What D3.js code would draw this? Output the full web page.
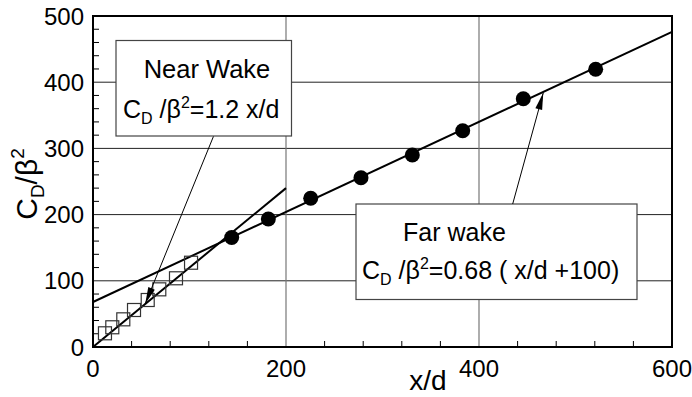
<!DOCTYPE html>
<html><head><meta charset="utf-8">
<script src="https://cdn.jsdelivr.net/npm/d3@7"></script>
<style>body{margin:0;background:#fff}svg{display:block}text{font-family:"Liberation Sans",Arial,sans-serif;fill:#000}</style>
</head><body><svg id="c" width="692" height="397"></svg>
<script>
// Data
const nearX = [12.4, 20, 31.4, 42.5, 56.7, 68.7, 86, 101.6];
const nearY = [20.7, 29.8, 41.8, 55.9, 71, 87.1, 103.8, 127.3];
const farX = [143.7, 181.7, 225.6, 277.7, 330.9, 383.1, 445.9, 520.9];
const farY = [165.4, 193.4, 224.6, 255.7, 290, 326.7, 375, 419.5];
const nearFitX = [0, 200];         // C_D/β² = 1.2 x/d
const farFitX = [0, 600];          // C_D/β² = 0.68 (x/d + 100)
const xTicks = [0, 200, 400, 600];
const yTicks = [0, 100, 200, 300, 400, 500];
const xMinor = d3.range(0, 601, 40).filter(v => v % 200 !== 0);
const yMinor = d3.range(0, 501, 20).filter(v => v % 100 !== 0);
// annotation arrows: [fromX, fromY, toX, toY] in data units
const nearArrow = [124.8, 318, 54, 64.8];
const farArrow = [434.9, 216, 466.6, 384];

const svg = d3.select("#c");
const L = 93, R = 672, T = 16, B = 347;
const x = d3.scaleLinear().domain([0, 600]).range([L, R]);
const y = d3.scaleLinear().domain([0, 500]).range([B, T]);

// gridlines
svg.append("g").selectAll("line").data(yTicks.filter(v => v > 0 && v < 500)).join("line")
  .attr("x1", L).attr("x2", R).attr("y1", d => y(d)).attr("y2", d => y(d))
  .attr("stroke", "#222").attr("stroke-width", 1);
svg.append("g").selectAll("line").data(xTicks.filter(v => v > 0 && v < 600)).join("line")
  .attr("y1", T).attr("y2", B).attr("x1", d => x(d)).attr("x2", d => x(d))
  .attr("stroke", "#777").attr("stroke-width", 1.2);

// minor ticks (inward)
svg.append("g").selectAll("line").data(yMinor).join("line")
  .attr("x1", L).attr("x2", L + 6).attr("y1", d => y(d)).attr("y2", d => y(d))
  .attr("stroke", "#000").attr("stroke-width", 1);
svg.append("g").selectAll("line").data(xMinor).join("line")
  .attr("y1", B).attr("y2", B - 6).attr("x1", d => x(d)).attr("x2", d => x(d))
  .attr("stroke", "#000").attr("stroke-width", 1);

// frame
svg.append("rect").attr("x", L).attr("y", T).attr("width", R - L).attr("height", B - T)
  .attr("fill", "none").attr("stroke", "#000").attr("stroke-width", 2);

// tick labels
svg.append("g").selectAll("text").data(xTicks).join("text")
  .attr("x", d => x(d)).attr("y", 377).attr("text-anchor", "middle")
  .attr("font-size", 24).text(d => d);
svg.append("g").selectAll("text").data(yTicks).join("text")
  .attr("x", 84).attr("y", d => y(d) + 8.5).attr("text-anchor", "end")
  .attr("font-size", 24).text(d => d);

// fit lines
const line = d3.line().x(d => x(d[0])).y(d => y(d[1]));
svg.append("path").attr("d", line(nearFitX.map(v => [v, 1.2 * v])))
  .attr("fill", "none").attr("stroke", "#000").attr("stroke-width", 2);
svg.append("path").attr("d", line(farFitX.map(v => [v, 0.68 * (v + 100)])))
  .attr("fill", "none").attr("stroke", "#000").attr("stroke-width", 2);

// near-wake squares
svg.append("g").selectAll("rect").data(nearX.map((v, i) => [v, nearY[i]])).join("rect")
  .attr("x", d => x(d[0]) - 6.5).attr("y", d => y(d[1]) - 6.5)
  .attr("width", 13).attr("height", 13)
  .attr("fill", "none").attr("stroke", "#333").attr("stroke-width", 1.2);

// far-wake circles
svg.append("g").selectAll("circle").data(farX.map((v, i) => [v, farY[i]])).join("circle")
  .attr("cx", d => x(d[0])).attr("cy", d => y(d[1])).attr("r", 7.5).attr("fill", "#000");

// annotation boxes
function box(x0, y0, w, h) {
  svg.append("rect").attr("x", x0).attr("y", y0).attr("width", w).attr("height", h)
    .attr("fill", "#fff").attr("stroke", "#444").attr("stroke-width", 1.2);
}
box(116, 40.5, 175.5, 95.5);
box(356, 204, 281, 95.5);

function formula(tx, ty, rest) {
  const t = svg.append("text").attr("x", tx).attr("y", ty).attr("font-size", 25);
  t.append("tspan").text("C");
  t.append("tspan").attr("font-size", 16).attr("dy", 6).text("D");
  t.append("tspan").attr("dy", -6).text(" /β");
  t.append("tspan").attr("font-size", 16).attr("dy", -10).text("2");
  t.append("tspan").attr("dy", 10).text(rest);
}
svg.append("text").attr("x", 207).attr("y", 77.5).attr("text-anchor", "middle")
  .attr("font-size", 25.5).text("Near Wake");
formula(123, 118, "=1.2 x/d");
svg.append("text").attr("x", 403).attr("y", 240.5).attr("font-size", 25).text("Far wake");
formula(362, 279, "=0.68 ( x/d +100)");

// arrows
function arrow(a) {
  const x1 = x(a[0]), y1 = y(a[1]), x2 = x(a[2]), y2 = y(a[3]);
  svg.append("line").attr("x1", x1).attr("y1", y1).attr("x2", x2).attr("y2", y2)
    .attr("stroke", "#000").attr("stroke-width", 1);
  const ang = Math.atan2(y2 - y1, x2 - x1), len = 17, hw = 3.5;
  const bx = x2 - len * Math.cos(ang), by = y2 - len * Math.sin(ang);
  const px = -Math.sin(ang) * hw, py = Math.cos(ang) * hw;
  svg.append("path").attr("d", `M${x2},${y2}L${bx + px},${by + py}L${bx - px},${by - py}Z`)
    .attr("fill", "#000");
}
arrow(nearArrow);
arrow(farArrow);

// axis titles
svg.append("text").attr("x", 428).attr("y", 390).attr("text-anchor", "middle")
  .attr("font-size", 28).text("x/d");
const yl = svg.append("text").attr("transform", "translate(37,184) rotate(-90)")
  .attr("text-anchor", "middle").attr("font-size", 30);
yl.append("tspan").text("C");
yl.append("tspan").attr("font-size", 19).attr("dy", 7).text("D");
yl.append("tspan").attr("dy", -7).text("/β");
yl.append("tspan").attr("font-size", 19).attr("dy", -13).text("2");
</script></body></html>
